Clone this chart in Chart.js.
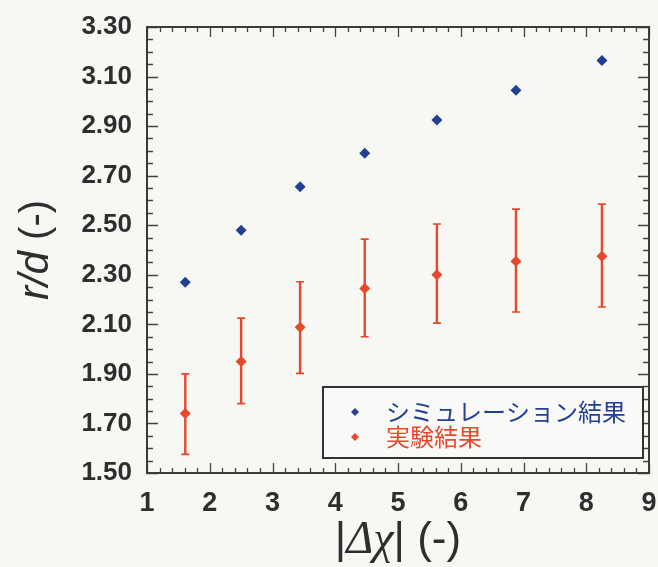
<!DOCTYPE html>
<html>
<head>
<meta charset="utf-8">
<script src="https://cdn.jsdelivr.net/npm/chart.js@4"></script>
<style>
  html, body { margin: 0; padding: 0; background: #f7f8f4; }
  #wrap { width: 658px; height: 567px; position: relative; }
</style>
</head>
<body>
<div id="wrap"><canvas id="mainChart"></canvas></div>
<script>
// datos
const xVals     = [1.61, 2.50, 3.44, 4.47, 5.62, 6.88, 8.25];
const simVals   = [2.27, 2.48, 2.655, 2.79, 2.925, 3.045, 3.165];
const expVals   = [1.74, 1.95, 2.088, 2.245, 2.30, 2.355, 2.375];
const expLow    = [1.575, 1.78, 1.902, 2.05, 2.105, 2.15, 2.17];
const expHigh   = [1.90, 2.125, 2.272, 2.444, 2.505, 2.565, 2.585];
const xTicks    = [1, 2, 3, 4, 5, 6, 7, 8, 9];
const yTicks    = [1.5, 1.7, 1.9, 2.1, 2.3, 2.5, 2.7, 2.9, 3.1, 3.3];
const seriesNames = ['シミュレーション結果', '実験結果'];

const BLUE = '#233f94';
const RED = '#e6482c';
const INK = '#2e2e2e';

function pts(ys) {
    return xVals.map((x, i) => ({ x: x, y: ys[i] }));
}

// barras de error, marco, ticks internos, títulos y leyenda
const decorPlugin = {
    id: 'decor',
    beforeDatasetsDraw(chart) {
        const ctx = chart.ctx;
        const xs = chart.scales.x, ys = chart.scales.y;
        ctx.save();
        ctx.strokeStyle = RED;
        xVals.forEach((x, i) => {
            const px = xs.getPixelForValue(x);
            const top = ys.getPixelForValue(expHigh[i]);
            const bot = ys.getPixelForValue(expLow[i]);
            ctx.lineWidth = 2.4;
            ctx.beginPath();
            ctx.moveTo(px, top); ctx.lineTo(px, bot);
            ctx.stroke();
            ctx.lineWidth = 1.6;
            ctx.beginPath();
            ctx.moveTo(px - 4, top); ctx.lineTo(px + 4, top);
            ctx.moveTo(px - 4, bot); ctx.lineTo(px + 4, bot);
            ctx.stroke();
        });
        ctx.restore();
    },
    afterDraw(chart) {
        const ctx = chart.ctx;
        const a = chart.chartArea;
        const xs = chart.scales.x, ys = chart.scales.y;
        ctx.save();
        ctx.strokeStyle = '#444';
        ctx.lineWidth = 1.3;
        // ticks menores y mayores, hacia dentro en los 4 lados
        for (let k = 0; k <= 40; k++) {
            const v = 1 + k * 0.2;
            const len = k % 5 === 0 ? 10 : 5;
            const px = Math.round(xs.getPixelForValue(v)) + 0.5;
            ctx.beginPath();
            ctx.moveTo(px, a.bottom); ctx.lineTo(px, a.bottom - len);
            ctx.moveTo(px, a.top); ctx.lineTo(px, a.top + len);
            ctx.stroke();
        }
        for (let k = 0; k <= 36; k++) {
            const v = 1.5 + k * 0.05;
            const len = k % 4 === 0 ? 11 : 6;
            const py = Math.round(ys.getPixelForValue(v)) + 0.5;
            ctx.beginPath();
            ctx.moveTo(a.left, py); ctx.lineTo(a.left + len, py);
            ctx.moveTo(a.right, py); ctx.lineTo(a.right - len, py);
            ctx.stroke();
        }
        // marco
        ctx.strokeStyle = '#3a3a3a';
        ctx.lineWidth = 2;
        ctx.strokeRect(a.left, a.top, a.right - a.left, a.bottom - a.top);

        // leyenda
        const lx = 323, ly = 387, lw = 320, lh = 71;
        ctx.fillStyle = '#f9faf7';
        ctx.fillRect(lx, ly, lw, lh);
        ctx.strokeStyle = '#333';
        ctx.lineWidth = 2;
        ctx.strokeRect(lx, ly, lw, lh);
        const rows = [[BLUE, 412], [RED, 437]];
        ctx.font = '24px "Noto Sans CJK JP"';
        ctx.textBaseline = 'middle';
        ctx.textAlign = 'left';
        rows.forEach((r, i) => {
            ctx.fillStyle = r[0];
            ctx.beginPath();
            ctx.moveTo(355, r[1] - 4); ctx.lineTo(359, r[1]);
            ctx.lineTo(355, r[1] + 4); ctx.lineTo(351, r[1]);
            ctx.closePath(); ctx.fill();
            ctx.fillText(seriesNames[i], 386, r[1]);
        });

        // título eje x: |Δχ| (-)
        ctx.fillStyle = INK;
        ctx.textBaseline = 'alphabetic';
        const parts = [
            ['|', '44px "Liberation Sans"'],
            ['Δχ', 'italic 46px "Liberation Serif"'],
            ['| (-)', '44px "Liberation Sans"']
        ];
        let total = 0;
        parts.forEach(p => { ctx.font = p[1]; total += ctx.measureText(p[0]).width; });
        let cx = (a.left + a.right) / 2 - total / 2;
        parts.forEach(p => {
            ctx.font = p[1];
            ctx.fillText(p[0], cx, 553);
            cx += ctx.measureText(p[0]).width;
        });

        // título eje y: r/d (-)
        ctx.translate(48, (a.top + a.bottom) / 2);
        ctx.rotate(-Math.PI / 2);
        const yparts = [
            ['r/d', 'italic 42px "Liberation Sans"'],
            [' (-)', '40px "Liberation Sans"']
        ];
        total = 0;
        yparts.forEach(p => { ctx.font = p[1]; total += ctx.measureText(p[0]).width; });
        cx = -total / 2;
        yparts.forEach(p => {
            ctx.font = p[1];
            ctx.fillText(p[0], cx, 0);
            cx += ctx.measureText(p[0]).width;
        });
        ctx.restore();
    }
};

document.addEventListener('DOMContentLoaded', () => {
    const ctx = document.getElementById('mainChart').getContext('2d');
    new Chart(ctx, {
        type: 'scatter',
        data: {
            datasets: [
                {
                    label: seriesNames[0],
                    data: pts(simVals),
                    pointStyle: 'rectRot',
                    pointRadius: 5.5,
                    backgroundColor: BLUE,
                    borderColor: BLUE,
                    borderWidth: 0
                },
                {
                    label: seriesNames[1],
                    data: pts(expVals),
                    pointStyle: 'rectRot',
                    pointRadius: 5.5,
                    backgroundColor: RED,
                    borderColor: RED,
                    borderWidth: 0
                }
            ]
        },
        options: {
            responsive: true,
            maintainAspectRatio: false,
            animation: false,
            layout: { padding: { top: 27, right: 9, left: 0, bottom: 0 } },
            scales: {
                x: {
                    type: 'linear',
                    min: 1,
                    max: 9,
                    afterBuildTicks: s => { s.ticks = xTicks.map(v => ({ value: v })); },
                    afterFit: s => { s.height = 94; s.paddingLeft = 0; s.paddingRight = 0; },
                    grid: { display: false, drawTicks: false },
                    border: { display: false },
                    ticks: {
                        color: INK,
                        padding: 14,
                        font: { family: '"Liberation Sans"', size: 27, weight: 'bold' },
                        callback: v => String(v)
                    }
                },
                y: {
                    type: 'linear',
                    min: 1.5,
                    max: 3.3,
                    afterBuildTicks: s => { s.ticks = yTicks.map(v => ({ value: v })); },
                    afterFit: s => { s.width = 147; s.paddingTop = 0; s.paddingBottom = 0; },
                    grid: { display: false, drawTicks: false },
                    border: { display: false },
                    ticks: {
                        color: INK,
                        padding: 15,
                        font: { family: '"Liberation Sans"', size: 26, weight: 'bold' },
                        callback: v => Number(v).toFixed(2)
                    }
                }
            },
            plugins: {
                legend: { display: false },
                tooltip: { enabled: false }
            }
        },
        plugins: [decorPlugin]
    });
});
</script>
</body>
</html>
